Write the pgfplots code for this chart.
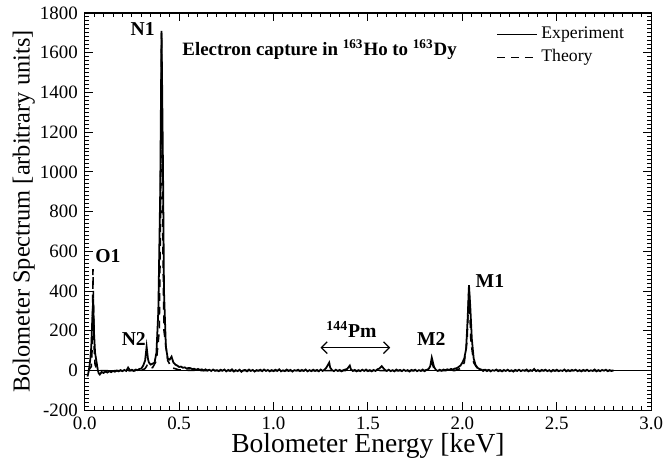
\documentclass[border=0pt]{standalone}
\usepackage{fontspec}
\setmainfont{Liberation Serif}
\usepackage{pgfplots}
\pgfplotsset{compat=1.18}
\usetikzlibrary{arrows.meta}
\begin{document}
\begin{tikzpicture}
\begin{axis}[
  scale only axis, width=288pt, height=202pt,
  xmin=0, xmax=3, ymin=-200, ymax=1800,
  xtick={0,0.5,1,1.5,2,2.5,3}, ytick={-200,0,200,400,600,800,1000,1200,1400,1600,1800},
  minor x tick num=9, minor y tick num=9,
  scaled y ticks=false,
  xticklabel={\pgfmathprintnumber[fixed,fixed zerofill,precision=1,assume math mode=true]{\tick}},
  yticklabel={\pgfmathprintnumber[fixed,precision=0,1000 sep={},assume math mode=true]{\tick}},
  tick label style={font=\rmfamily\fontsize{9.6}{11}\selectfont},
  xticklabel style={inner xsep=0pt},
  xlabel={Bolometer Energy [keV]},
  ylabel={Bolometer Spectrum [arbitrary units]},
  xlabel style={font=\fontsize{14}{16}\selectfont, yshift=5pt},
  ylabel style={font=\fontsize{12.4}{14}\selectfont, yshift=-7.5pt, inner ysep=6.5pt},
  major tick length=4pt, minor tick length=2pt,
  tick style={black, line width=0.5pt},
  axis line style={line width=0.7pt},
  legend style={draw=none, fill=none, at={(0.97,0.985)}, anchor=north east,
    font=\fontsize{9}{11}\selectfont, row sep=0pt},
  legend cell align=left,
  legend image code/.code={\draw[#1] (0pt,0pt) -- (20pt,0pt);},
]
\addplot[black, line width=0.3pt, forget plot] coordinates {(0,0) (3,0)};
\addplot[black, line width=0.9pt] coordinates {
(0.015,-30) (0.02,-10) (0.025,20) (0.03,60) (0.035,120) (0.04,250) (0.045,360) (0.05,180) (0.055,90) (0.06,60) (0.065,30) (0.07,0) (0.075,-15) (0.08,-20)
(0.09,-8) (0.10,-12) (0.11,-5) (0.12,-10) (0.13,-3) (0.14,-8) (0.15,-2) (0.16,-6) (0.17,0) (0.18,-4) (0.19,2) (0.20,-3) (0.21,3) (0.22,-2) (0.23,15) (0.24,0)
(0.25,4) (0.26,-2) (0.27,5) (0.28,2) (0.29,8) (0.30,10) (0.31,25) (0.32,50) (0.328,120) (0.335,60) (0.34,40) (0.35,30) (0.36,35) (0.37,40) (0.38,90)
(0.39,300) (0.40,900) (0.407,1710) (0.415,1000) (0.42,400) (0.43,120) (0.44,60) (0.45,55) (0.46,70) (0.47,40) (0.48,30) (0.49,25) (0.50,18) (0.51,20)
(0.52,14) (0.53,16) (0.54,10) (0.55,13) (0.56,12) (0.57,7) (0.58,9) (0.59,4) (0.60,8) (0.61,3) (0.62,6) (0.63,1) (0.64,6) (0.65,0) (0.66,4) (0.67,-2) (0.68,5) (0.69,-1)
(0.70,2) (0.71,-3) (0.72,4) (0.73,-1) (0.74,5) (0.75,-4) (0.76,3) (0.77,-2) (0.78,6) (0.79,-5) (0.80,2) (0.81,-3) (0.82,4) (0.83,-6) (0.84,1) (0.85,3)
(0.86,-4) (0.87,5) (0.88,-2) (0.89,3) (0.90,-5) (0.91,2) (0.92,-1) (0.93,4) (0.94,-3) (0.95,5) (0.96,-2) (0.97,3) (0.98,-4) (0.99,2) (1.00,-3) (1.01,4)
(1.02,-2) (1.03,6) (1.04,-4) (1.05,1) (1.06,-3) (1.07,5) (1.08,-2) (1.09,3) (1.10,-5) (1.11,2) (1.12,-1) (1.13,4) (1.14,-3) (1.15,3) (1.16,-2) (1.17,5)
(1.18,-4) (1.19,2) (1.20,-3) (1.21,4) (1.22,-2) (1.23,3) (1.24,-4) (1.25,5) (1.26,-2) (1.27,4) (1.28,15) (1.295,40) (1.30,15) (1.31,2) (1.32,-3) (1.33,4)
(1.34,-2) (1.35,3) (1.36,-4) (1.37,2) (1.38,5) (1.39,8) (1.404,25) (1.41,6) (1.42,-2) (1.43,3) (1.44,-4) (1.45,2) (1.46,-3) (1.47,4) (1.48,-2) (1.49,5)
(1.50,-3) (1.51,2) (1.52,-4) (1.53,3) (1.54,-2) (1.55,6) (1.56,10) (1.573,22) (1.58,14) (1.59,3) (1.60,-2) (1.61,4) (1.62,-3) (1.63,2) (1.64,-4) (1.65,5)
(1.66,-1) (1.67,3) (1.68,-3) (1.69,4) (1.70,-2) (1.71,2) (1.72,-5) (1.73,3) (1.74,-1) (1.75,4) (1.76,-3) (1.77,2) (1.78,-2) (1.79,5) (1.80,-3) (1.81,3)
(1.82,6) (1.83,22) (1.838,65) (1.85,18) (1.86,3) (1.87,-2) (1.88,4) (1.89,-1) (1.90,5) (1.91,2) (1.92,6) (1.93,3) (1.94,8) (1.95,5) (1.96,10) (1.97,12)
(1.98,18) (1.99,25) (2.00,40) (2.01,60) (2.02,110) (2.028,260) (2.035,430) (2.042,320) (2.05,160) (2.06,60) (2.07,28) (2.08,14) (2.09,8) (2.10,5)
(2.11,-2) (2.12,4) (2.13,-3) (2.14,3) (2.15,-4) (2.16,2) (2.17,-1) (2.18,5) (2.19,-3) (2.20,2) (2.21,-4) (2.22,3) (2.23,-2) (2.24,4) (2.25,-3) (2.26,1)
(2.27,-5) (2.28,3) (2.29,-2) (2.30,4) (2.31,-3) (2.32,2) (2.33,-1) (2.34,5) (2.35,-4) (2.36,2) (2.37,-2) (2.38,8) (2.39,-3) (2.40,2) (2.41,-4) (2.42,3)
(2.43,-1) (2.44,4) (2.45,-3) (2.46,2) (2.47,-5) (2.48,3) (2.49,-2) (2.50,4) (2.51,-3) (2.52,1) (2.53,-2) (2.54,5) (2.55,-4) (2.56,2) (2.57,-3) (2.58,3)
(2.59,-1) (2.60,4) (2.61,-3) (2.62,2) (2.63,-4) (2.64,3) (2.65,-2) (2.66,4) (2.67,-3) (2.68,1) (2.69,-2) (2.70,5) (2.71,-4) (2.72,2) (2.73,-3) (2.74,3)
(2.75,-1) (2.76,4) (2.77,-3) (2.78,2) (2.79,-2) (2.80,1)
};
\addlegendentry{Experiment}
\addplot[black, line width=0.8pt, dash pattern=on 4pt off 3pt] coordinates {
(0.02,0) (0.035,20) (0.04,120) (0.044,510) (0.05,120) (0.055,30) (0.065,5) (0.08,0) (0.30,0) (0.32,10) (0.33,25) (0.34,10) (0.36,15) (0.38,50)
(0.395,200) (0.402,800) (0.407,1700) (0.412,800) (0.42,200) (0.44,50) (0.46,15) (0.5,3) (0.6,0) (1.8,0) (1.83,10) (1.838,40) (1.85,10) (1.87,0)
(1.96,0) (1.99,10) (2.01,40) (2.025,150) (2.035,420) (2.045,150) (2.06,40) (2.08,10) (2.12,2) (2.2,0) (2.8,0)
};
\addlegendentry{Theory}
\node[font=\fontsize{10}{12}\selectfont\bfseries] at (axis cs:0.307,1720) {N1};
\node[font=\fontsize{10}{12}\selectfont\bfseries] at (axis cs:0.123,576) {O1};
\node[font=\fontsize{10}{12}\selectfont\bfseries] at (axis cs:0.26,160) {N2};
\node[font=\fontsize{10}{12}\selectfont\bfseries] at (axis cs:1.835,160) {M2};
\node[font=\fontsize{10}{12}\selectfont\bfseries] at (axis cs:2.146,450) {M1};
\node[font=\fontsize{10}{12}\selectfont\bfseries] at (axis cs:1.413,205) {\textsuperscript{144}Pm};
\draw[{Straight Barb[length=3pt]}-{Straight Barb[length=3pt]}, line width=0.6pt] (axis cs:1.249,115) -- (axis cs:1.618,115);
\node[font=\fontsize{9.6}{12}\selectfont\bfseries] at (axis cs:1.244,1615) {Electron capture in \textsuperscript{163}Ho to \textsuperscript{163}Dy};
\end{axis}
\end{tikzpicture}
\end{document}
